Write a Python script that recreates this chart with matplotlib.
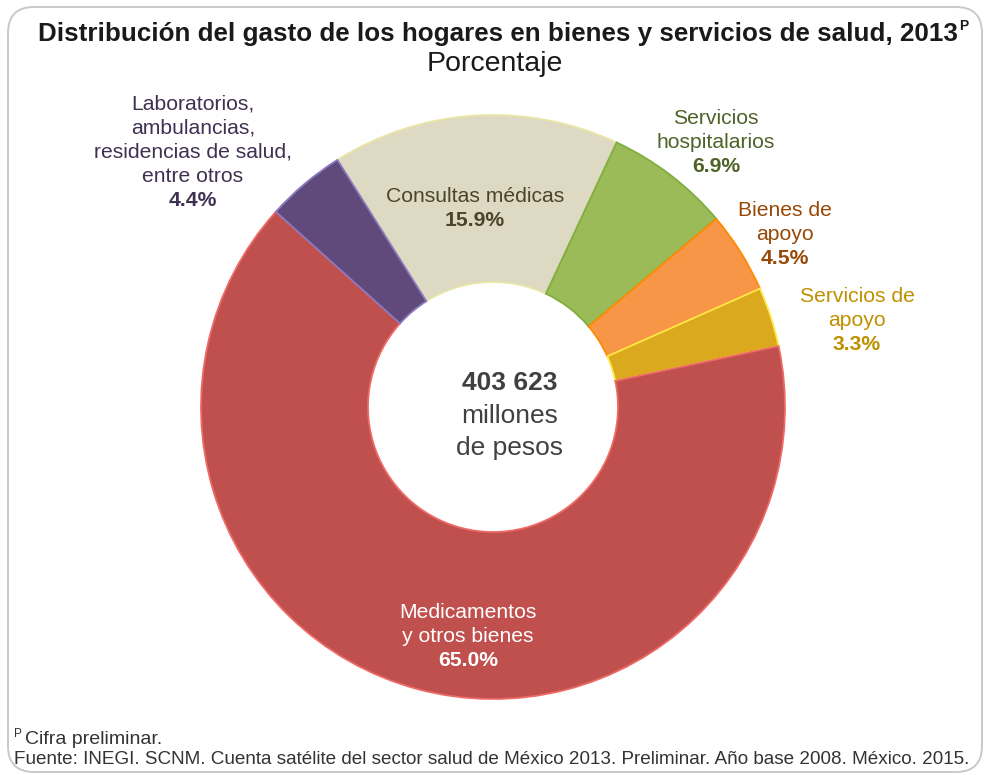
import matplotlib
matplotlib.use("Agg")
import matplotlib.pyplot as plt
from matplotlib.patches import FancyBboxPatch
from matplotlib import font_manager

W, H = 986, 775

# ---- data -------------------------------------------------------------
categories = [
    "Consultas médicas",
    "Servicios\nhospitalarios",
    "Bienes de\napoyo",
    "Servicios de\napoyo",
    "Medicamentos\ny otros bienes",
    "Laboratorios,\nambulancias,\nresidencias de salud,\nentre otros",
]
shares = [15.9, 6.9, 4.5, 3.3, 65.0, 4.4]
total_label = "403 623"
total_units = ["millones", "de pesos"]

fill_colors = ["#DDD9C3", "#9BBB59", "#F79646", "#DAA91E", "#C0504D", "#604A7B"]
edge_colors = ["#E9E6A6", "#7FAE3C", "#FF8A00", "#FFE94A", "#EE6A66", "#8A78C0"]
text_colors = ["#4A452A", "#4F6228", "#984807", "#BF9000", "#FFFFFF", "#3F3151"]
# label anchor (x, y of first line) in pixels from top-left
label_pos = [(475, 196), (716, 119), (785, 210), (857, 297), (468, 612), (193, 104)]

FONT = "Liberation Sans"
names = {f.name for f in font_manager.fontManager.ttflist}
NARROW = "Liberation Sans Narrow" if "Liberation Sans Narrow" in names else FONT
plt.rcParams["font.family"] = [FONT, "DejaVu Sans"]

fig = plt.figure(figsize=(W / 100, H / 100), dpi=100)
ax = fig.add_axes([0, 0, 1, 1])

# rounded frame around the whole graphic
frame = FancyBboxPatch((8, 3), W - 12, H - 10,
                       boxstyle="round,pad=0,rounding_size=26",
                       fc="white", ec="#C9C9C9", lw=1.4, zorder=0)
ax.add_patch(frame)

cx, cy, R, r = 493, 407, 292, 125
wedges, _ = ax.pie(shares, startangle=122.2, counterclock=False,
                   center=(cx, H - cy), radius=R, colors=fill_colors,
                   wedgeprops=dict(width=R - r, linewidth=1.3))
for w, ec in zip(wedges, edge_colors):
    w.set_edgecolor(ec)
    w.set_zorder(2)

ax.set_xlim(0, W)
ax.set_ylim(0, H)
ax.set_aspect("auto")
ax.axis("off")


def put(x, y, s, **kw):
    return ax.text(x, H - y, s, ha="center", va="center", **kw)


# slice labels: category lines in regular weight, share in bold
step = 24
for name, v, (x, y0), c in zip(categories, shares, label_pos, text_colors):
    lines = name.split("\n")
    for i, ln in enumerate(lines):
        put(x, y0 + i * step, ln, fontsize=15.2, color=c)
    put(x, y0 + len(lines) * step, f"{v:.1f}%", fontsize=15.2,
        color=c, fontweight="bold")

# total in the hole
put(510, 383, total_label, fontsize=19, fontweight="bold", color="#404040")
put(510, 416, total_units[0], fontsize=19, color="#404040")
put(510, 448, total_units[1], fontsize=19, color="#404040")

# title with superscript
title = put(498, 34, "Distribución del gasto de los hogares en bienes y servicios de salud, 2013",
            fontsize=18.7, fontweight="bold", color="#1A1A1A")
put(495, 64, "Porcentaje", fontsize=20.5, color="#1A1A1A")

fig.canvas.draw()
bb = title.get_window_extent()
ax.text(bb.x1 + 1, H - 26, "P", ha="left", va="center", fontsize=10,
        fontweight="bold", color="#1A1A1A")

# footnotes
ax.text(14, H - 734, "P", ha="left", va="center", fontsize=8.5, color="#333333",
        family=NARROW)
ax.text(25, H - 740, "Cifra preliminar.", ha="left", va="center",
        fontsize=14, color="#333333", family=NARROW)
ax.text(14, H - 760,
        "Fuente: INEGI. SCNM. Cuenta satélite del sector salud de México 2013. "
        "Preliminar. Año base 2008. México. 2015.",
        ha="left", va="center", fontsize=13.55, color="#333333", family=NARROW)

fig.savefig("out.png", dpi=100)
